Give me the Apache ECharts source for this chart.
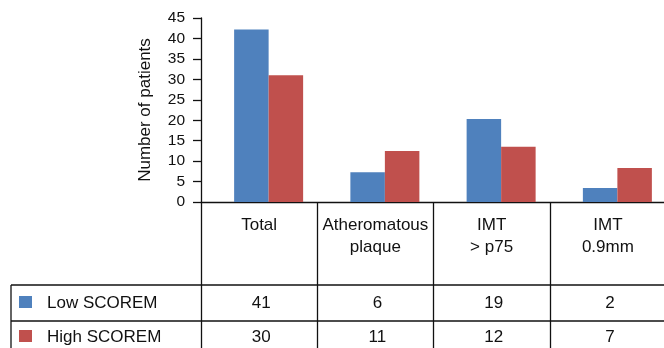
<!DOCTYPE html>
<html>
<head>
<meta charset="utf-8">
<script src="https://cdn.jsdelivr.net/npm/echarts@6/dist/echarts.min.js"></script>
<style>
  html, body { margin: 0; padding: 0; background: #fff; overflow: hidden; }
  /* wider than the window: the table's last column runs off the right edge */
  #chart { width: 700px; height: 348px; }
</style>
</head>
<body>
<div id="chart"></div>
<script>
// categories (table header) and series
var categories = ['Total', 'Atheromatous\nplaque', 'IMT\n> p75', 'IMT\n0.9mm'];
var seriesNames = ['Low SCOREM', 'High SCOREM'];
// bar heights as drawn
var lowBars = [42.2, 7.3, 20.3, 3.4];
var highBars = [31.0, 12.5, 13.5, 8.3];
// numbers printed in the table
var lowTable = [41, 6, 19, 2];
var highTable = [30, 11, 12, 7];
var yTicks = [0, 45, 5]; // min, max, interval

var colors = ['#4f81bd', '#c0504d'];
var font = '"Liberation Sans", Arial, Helvetica, sans-serif';
var ink = '#111';

var chart = echarts.init(document.getElementById('chart'));

chart.setOption({
  animation: false,
  textStyle: { fontFamily: font, color: ink },
  grid: [
    // axes + table columns
    { left: 201, top: 18, width: 465, bottom: 146 },
    // bars sit a little right of the column centres in the source
    { left: 210.5, top: 18, width: 465, bottom: 146 }
  ],
  xAxis: [{
    gridIndex: 0,
    type: 'category',
    data: categories,
    boundaryGap: true,
    axisLine: { lineStyle: { color: ink, width: 1.3 } },
    axisTick: {
      show: true, length: 146, lineStyle: { color: ink, width: 1.3 },
      interval: function (i) { return i < categories.length; }
    },
    axisLabel: {
      interval: 0, margin: 12, fontSize: 17, lineHeight: 22,
      color: ink, fontFamily: font
    }
  }, {
    gridIndex: 1,
    type: 'category',
    data: categories,
    show: false
  }],
  yAxis: [{
    gridIndex: 0,
    type: 'value',
    min: yTicks[0], max: yTicks[1], interval: yTicks[2],
    name: 'Number of patients',
    nameLocation: 'middle',
    nameGap: 47,
    nameTextStyle: { fontSize: 17, color: ink, fontFamily: font },
    axisLine: { show: true, lineStyle: { color: ink, width: 1.3 } },
    axisTick: { show: true, length: 8, lineStyle: { color: ink, width: 1.3 } },
    axisLabel: { fontSize: 15.5, margin: 16, color: ink, fontFamily: font },
    splitLine: { show: false }
  }, {
    gridIndex: 1,
    type: 'value',
    min: yTicks[0], max: yTicks[1], interval: yTicks[2],
    show: false,
    splitLine: { show: false }
  }],
  series: [{
    name: seriesNames[0], type: 'bar', xAxisIndex: 1, yAxisIndex: 1,
    data: lowBars, barWidth: 34.5, barGap: '0%',
    itemStyle: { color: colors[0] }
  }, {
    name: seriesNames[1], type: 'bar', xAxisIndex: 1, yAxisIndex: 1,
    data: highBars, barWidth: 34.5, barGap: '0%',
    itemStyle: { color: colors[1] }
  }]
});

// table rows under the axis
var rowLines = [285, 321];
var rowCentres = [303, 337];
var tableLeft = 11, tableRight = 700;
var g = [];
rowLines.forEach(function (y) {
  g.push({ type: 'line', shape: { x1: tableLeft, y1: y, x2: tableRight, y2: y },
    style: { stroke: ink, lineWidth: 1.3 } });
});
g.push({ type: 'line', shape: { x1: tableLeft, y1: rowLines[0], x2: tableLeft, y2: 348 },
  style: { stroke: ink, lineWidth: 1.3 } });

[lowTable, highTable].forEach(function (vals, r) {
  var cy = rowCentres[r];
  g.push({ type: 'rect', shape: { x: 19, y: cy - 7, width: 13, height: 12 },
    style: { fill: colors[r] } });
  g.push({ type: 'text', x: 47, y: cy,
    style: { text: seriesNames[r], font: '17px ' + font, fill: ink,
      verticalAlign: 'middle', align: 'left' } });
  vals.forEach(function (v, i) {
    var cx = chart.convertToPixel({ xAxisIndex: 0 }, i);
    g.push({ type: 'text', x: cx + 2, y: cy,
      style: { text: String(v), font: '17px ' + font, fill: ink,
        align: 'center', verticalAlign: 'middle' } });
  });
});

chart.setOption({ graphic: g });
</script>
</body>
</html>
